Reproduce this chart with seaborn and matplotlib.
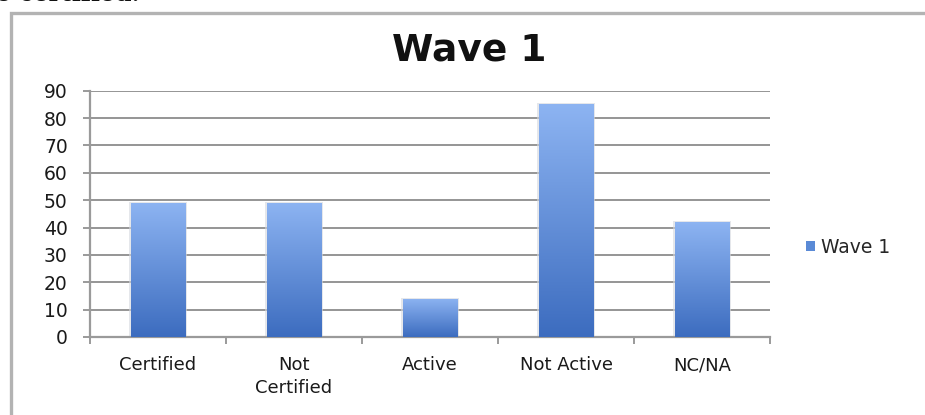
import numpy as np
import pandas as pd
import matplotlib
matplotlib.use("Agg")
import matplotlib.pyplot as plt
import seaborn as sns
from matplotlib.patches import Rectangle, Patch
from matplotlib.colors import LinearSegmentedColormap

# Survey status counts, first wave
categories = ["Certified", "Not\nCertified", "Active", "Not Active", "NC/NA"]
values = [49, 49, 14, 85, 42]
series_name = "Wave 1"
yticks = [0, 10, 20, 30, 40, 50, 60, 70, 80, 90]

sns.set_theme(style="white")
plt.rcParams["font.family"] = ["DejaVu Sans"]

fig = plt.figure(figsize=(9.25, 4.15), dpi=100)
fig.patch.set_facecolor("white")

# document frame around the chart
frame = Rectangle((11 / 925, -0.2), 1.2, 1 - 13 / 415 + 0.2,
                  transform=fig.transFigure, fill=False,
                  edgecolor="#b3b3b3", linewidth=2.4, zorder=0)
fig.add_artist(frame)

# tail of the preceding sentence in the document
fig.text(-0.004, 1 - 1 / 415, "e certified.", family="DejaVu Serif",
         fontweight="bold", fontsize=17, va="baseline", ha="left",
         color="#111111")

ax = fig.add_axes([90 / 925, 1 - 337 / 415, 680 / 925, (337 - 90.7) / 415])

df = pd.DataFrame({"category": categories, "value": values})
sns.barplot(data=df, x="category", y="value", ax=ax, width=0.4,
            color="#5b8bd6", saturation=1, zorder=3)

ax.set_xlim(-0.5, len(categories) - 0.5)
ax.set_ylim(0, 90)
ax.set_yticks(yticks)
ax.set_xlabel("")
ax.set_ylabel("")

# vertical gradient fill for the bars
cmap = LinearSegmentedColormap.from_list("bar", ["#3c6cbf", "#8db4f2"])
grad = np.linspace(0, 1, 256).reshape(-1, 1)
for patch in list(ax.patches):
    x0, y0 = patch.get_x(), patch.get_y()
    w, h = patch.get_width(), patch.get_height()
    shadow = Rectangle((x0 - 0.01, y0), w + 0.02, h + 0.4,
                       facecolor="#d4d8de", edgecolor="none",
                       alpha=0.6, zorder=2.5)
    ax.add_patch(shadow)
    patch.set_facecolor("none")
    patch.set_edgecolor("none")
    im = ax.imshow(grad, extent=[x0, x0 + w, y0, y0 + h], origin="lower",
                   cmap=cmap, aspect="auto", zorder=3, interpolation="bilinear")
    im.set_clip_path(patch)
ax.set_xlim(-0.5, len(categories) - 0.5)
ax.set_ylim(0, 90)

# gridlines and axes
ax.grid(axis="y", color="#8c8c8c", linewidth=1.3, zorder=1)
ax.grid(axis="x", visible=False)
for side in ["top", "right"]:
    ax.spines[side].set_visible(False)
for side in ["left", "bottom"]:
    ax.spines[side].set_color("#9a9a9a")
    ax.spines[side].set_linewidth(1.6)
ax.set_axisbelow(True)

ax.tick_params(axis="y", which="major", direction="out", length=5,
               width=1.4, color="#9a9a9a", pad=11, labelsize=13.5,
               labelcolor="#1a1a1a", left=True)
ax.set_xticks(np.arange(-0.5, len(categories), 1.0), minor=True)
ax.tick_params(axis="x", which="minor", direction="out", length=5,
               width=1.4, color="#9a9a9a", bottom=True)
ax.tick_params(axis="x", which="major", length=0, pad=14, labelsize=13,
               labelcolor="#1a1a1a")
for lbl in ax.get_xticklabels():
    lbl.set_linespacing(1.3)
    lbl.set_verticalalignment("top")

ax.set_title(series_name, fontsize=27, fontweight="bold", color="#111111",
             x=(469 - 90) / 680, pad=22)

handle = Patch(facecolor="#5a8ad6", edgecolor="none")
leg = ax.legend([handle], [series_name], loc="center left",
                bbox_to_anchor=(806 / 925, 1 - 247 / 415),
                bbox_transform=fig.transFigure, frameon=False,
                fontsize=13.5, handlelength=0.5, handleheight=0.5,
                handletextpad=0.3, borderpad=0, borderaxespad=0)

fig.savefig("out.png", dpi=100, facecolor="white")
